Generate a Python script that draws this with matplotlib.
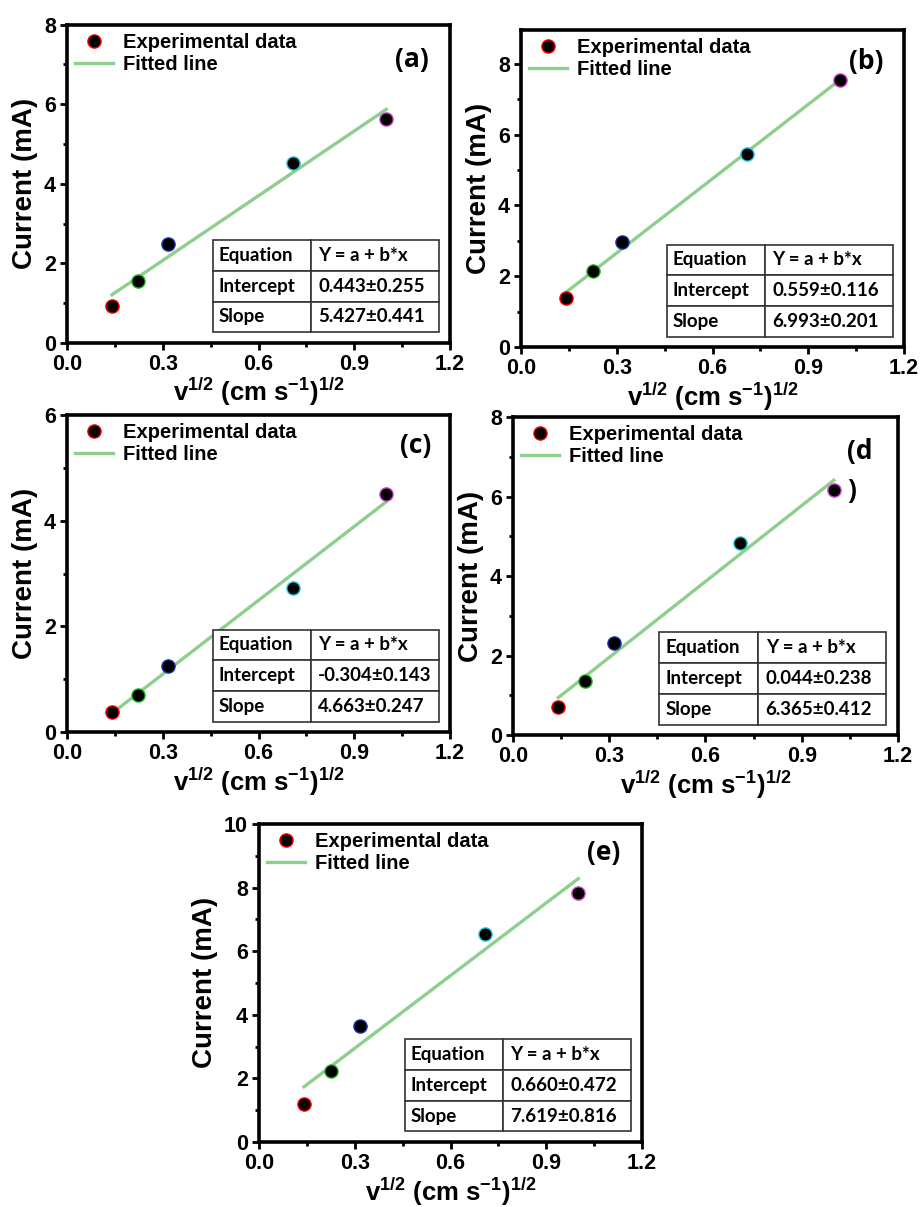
import numpy as np
import matplotlib
matplotlib.use("Agg")
import matplotlib.pyplot as plt

plt.rcParams['font.family'] = 'Liberation Sans'
plt.rcParams['font.weight'] = 'bold'
plt.rcParams['axes.labelweight'] = 'bold'
plt.rcParams['mathtext.fontset'] = 'custom'
plt.rcParams['mathtext.rm'] = 'Liberation Sans:bold'
plt.rcParams['mathtext.bf'] = 'Liberation Sans:bold'
plt.rcParams['mathtext.it'] = 'Liberation Sans:bold'

# square root of scan rate
x = [0.141, 0.224, 0.316, 0.707, 1.0]

labels = ['(a)', '(b)', '(c)', '(d\n)', '(e)']
y_a = [0.93, 1.55, 2.48, 4.53, 5.63]
y_b = [1.37, 2.14, 2.96, 5.45, 7.53]
y_c = [0.38, 0.70, 1.25, 2.72, 4.50]
y_d = [0.70, 1.35, 2.32, 4.82, 6.17]
y_e = [1.18, 2.24, 3.65, 6.53, 7.84]
ydata = [y_a, y_b, y_c, y_d, y_e]

intercepts = [0.443, 0.559, -0.304, 0.044, 0.660]
slopes = [5.427, 6.993, 4.663, 6.365, 7.619]
intercept_txt = ['0.443±0.255', '0.559±0.116', '-0.304±0.143', '0.044±0.238', '0.660±0.472']
slope_txt = ['5.427±0.441', '6.993±0.201', '4.663±0.247', '6.365±0.412', '7.619±0.816']
ytops = [8, 8.95, 6, 8, 10]
xticks = [0, 0.3, 0.6, 0.9, 1.2]
xtick_labels = ['0.0', '0.3', '0.6', '0.9', '1.2']

edge_cols = ['red', '#22bb22', '#2233aa', '#22c8e0', '#d040d0']
fit_col = '#8ecf8e'

positions = [[0.0727, 0.716, 0.416, 0.2635],
             [0.5657, 0.7125, 0.416, 0.2626],
             [0.0727, 0.3935, 0.416, 0.2626],
             [0.557, 0.391, 0.418, 0.2635],
             [0.2812, 0.0539, 0.416, 0.2635]]
label_pos = [(0.90, 0.89), (0.90, 0.90), (0.91, 0.905), (0.90, 0.83), (0.90, 0.91)]

fig = plt.figure(figsize=(9.21, 12.07), dpi=100)

for i in range(5):
    ax = fig.add_axes(positions[i])
    ys = ydata[i]
    xf = np.array([x[0], x[-1]])
    ax.plot(xf, intercepts[i] + slopes[i] * xf, color=fit_col, lw=2.4, zorder=2)
    for j in range(5):
        ax.plot(x[j], ys[j], 'o', ms=9.5, mfc='black', mec=edge_cols[j], mew=1.0, zorder=3)
    # legend handles
    h1, = ax.plot([], [], 'o', ms=9.5, mfc='black', mec='red', mew=1.0)
    h2, = ax.plot([], [], color=fit_col, lw=2.4)
    ax.legend([h1, h2], ['Experimental data', 'Fitted line'], loc='upper left',
              frameon=False, prop={'size': 14.5, 'weight': 'bold'},
              handlelength=1.9, handletextpad=0.5,
              labelspacing=0.15, borderaxespad=0.1, borderpad=0.3)

    ax.set_xlim(0, 1.2)
    ax.set_ylim(0, ytops[i])
    yt = np.arange(0, ytops[i] + 0.01, 2)
    ax.set_xticks(xticks)
    ax.set_xticklabels(xtick_labels, fontsize=15.5, fontweight='bold')
    ax.set_xticks([0.15, 0.45, 0.75, 1.05], minor=True)
    ax.set_yticks(yt)
    ax.set_yticklabels(['%d' % v for v in yt], fontsize=15.5, fontweight='bold')
    ax.set_yticks(np.arange(1, ytops[i], 2), minor=True)
    ax.tick_params(which='major', length=5, width=2, pad=3)
    ax.tick_params(which='minor', length=3, width=2)
    for sp in ax.spines.values():
        sp.set_linewidth(2.6)

    ax.set_xlabel(r'v$^{1/2}$ (cm s$^{-1}$)$^{1/2}$', fontsize=18.5, labelpad=1)
    ax.set_ylabel('Current (mA)', fontsize=20, labelpad=4)

    if '\n' in labels[i]:
        ax.text(0.868, label_pos[i][1], labels[i], transform=ax.transAxes,
                fontsize=19, family='Open Sans', weight='bold', ha='left', va='center',
                linespacing=1.55)
    else:
        ax.text(label_pos[i][0], label_pos[i][1], labels[i], transform=ax.transAxes,
                fontsize=19, family='Open Sans', weight='bold', ha='center', va='center')

    cells = [['Equation', 'Y = a + b*x'],
             ['Intercept', intercept_txt[i]],
             ['Slope', slope_txt[i]]]
    tb = ax.table(cellText=cells, cellLoc='left', colWidths=[0.434, 0.566],
                  bbox=[0.38, 0.033, 0.59, 0.29], zorder=4)
    tb.auto_set_font_size(False)
    tb.set_fontsize(13.5)
    for key, cell in tb.get_celld().items():
        cell.set_edgecolor('#333333')
        cell.set_linewidth(1.2)
        cell.PAD = 0.06
        cell.get_text().set_fontfamily('Lato')
        cell.get_text().set_fontweight('bold')

fig.savefig('out.png', dpi=100)
